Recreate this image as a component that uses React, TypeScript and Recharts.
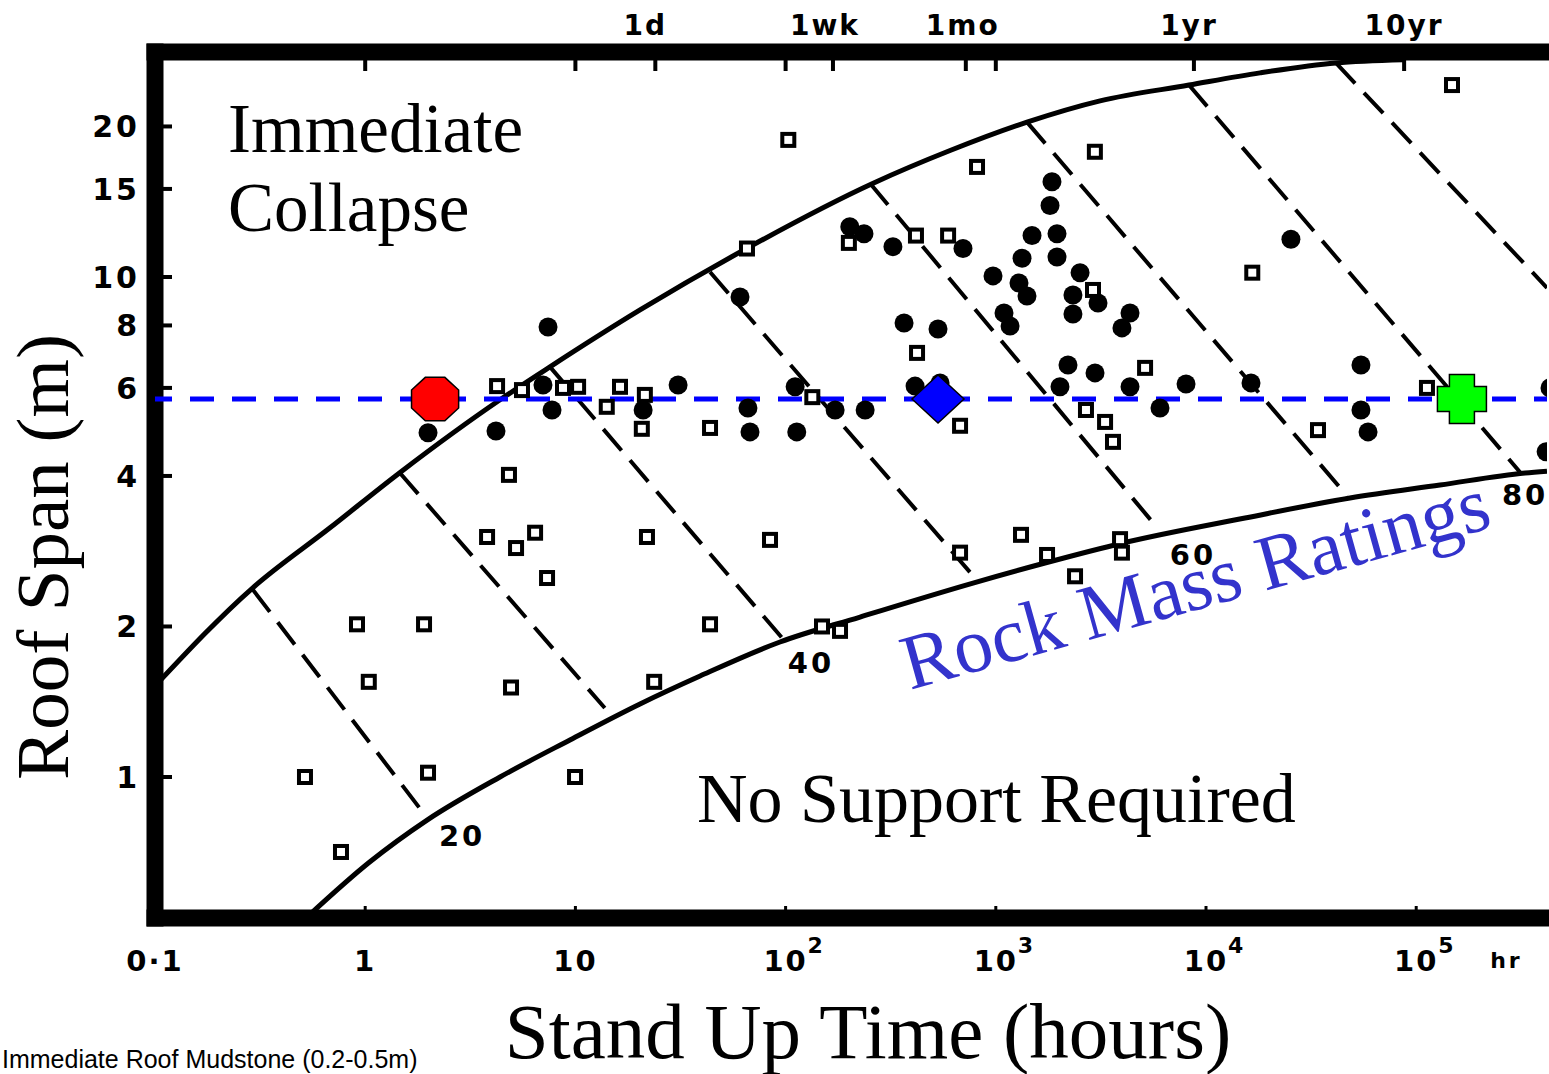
import React from 'react';
import { ScatterChart, Scatter, XAxis, YAxis } from 'recharts';

// ---------- layout constants ----------
const CHART_W = 1549;
const CHART_H = 1074;
const PLOT_LEFT = 155;
const PLOT_RIGHT = 1547;
const PLOT_TOP = 52;
const PLOT_BOTTOM = 918;

const X_DOMAIN = [0.1, 419000];
const Y_DOMAIN = [0.5224, 28.18];

// ---------- axis ticks ----------
const X_TICKS = [0.1, 1, 10, 100, 1000, 10000, 100000];
const X_TICK_LABELS = ['0·1', '1', '10', '10', '10', '10', '10'];
const X_TICK_EXP = ['', '', '', '2', '3', '4', '5'];
const X_UNIT = 'hr';

const TOP_TICKS = [1, 10, 24, 100, 168, 720, 1000, 8760, 87600];
const TOP_TICK_LABELS = ['', '', '1d', '', '1wk', '1mo', '', '1yr', '10yr'];
const TOP_LABEL_DX = [0, 0, -10, 0, -8, -3, 0, -5, 0];

const Y_TICKS = [1, 2, 4, 6, 8, 10, 15, 20];

// ---------- boundary curves (stand-up time h, span m) ----------
const UPPER_X = [0.1, 0.292, 0.68, 1.46, 4.38, 7.57, 20.3, 62.7, 261, 606, 1407, 3133, 8300, 18070, 41500, 86500];
const UPPER_Y = [1.52, 2.39, 3.15, 4.06, 5.68, 6.61, 8.59, 11.3, 15.4, 17.9, 20.4, 22.5, 24.2, 25.6, 26.8, 27.2];

const LOWER_X = [0.535, 1.05, 1.97, 4.38, 9.42, 20.3, 39.2, 94, 226, 779, 1714, 4027, 15340, 48400, 129700, 329600, 419000];
const LOWER_Y = [0.527, 0.676, 0.82, 1.0, 1.186, 1.4, 1.592, 1.862, 2.089, 2.443, 2.679, 2.938, 3.296, 3.614, 3.837, 4.055, 4.09];

// ---------- rock mass rating iso-lines ----------
const RMR_VALUES = [20, 30, 40, 50, 60, 70, 80, 90];
const RMR_START_X = [0.292, 1.46, 7.57, 43.7, 252, 1407, 8300, 41500];
const RMR_START_Y = [2.37, 4.06, 6.61, 10.23, 15.4, 20.4, 24.2, 26.8];
const RMR_END_X = [1.925, 13.8, 96.2, 796, 5720, 46900, 312000, 419000];
const RMR_END_Y = [0.839, 1.374, 1.897, 2.5, 3.19, 3.65, 4.07, 9.51];

const RMR_LABELS = ['20', '40', '60', '80'];
const RMR_LABEL_X = [2.89, 132, 8670, 329500];
const RMR_LABEL_Y = [0.766, 1.7, 2.79, 3.68];

// ---------- case histories ----------
const CIRCLE_X = [1.99, 4.19, 7.01, 7.74, 7.41, 21.0, 30.8, 60.7, 66.2, 67.7, 113, 111, 172, 239, 202, 236, 324, 698, 366, 531, 413, 543, 1850, 1811, 1487, 1955, 1333, 1955, 970, 1289, 1407, 2517, 2328, 2328, 3063, 1094, 1169, 4350, 3982, 2205, 2965, 2020, 4350, 8035, 6040, 25350, 16370, 54600, 54600, 59000, 433000, 415000];
const CIRCLE_Y = [4.88, 4.92, 6.08, 5.42, 7.94, 5.42, 6.08, 9.12, 5.47, 4.9, 4.9, 6.03, 5.42, 5.42, 12.6, 12.2, 11.5, 11.4, 8.09, 7.87, 6.05, 6.14, 15.5, 13.9, 12.1, 12.2, 10.9, 10.96, 10.05, 9.73, 9.16, 10.2, 9.2, 8.43, 8.87, 8.47, 7.98, 8.47, 7.91, 6.67, 6.43, 6.03, 6.03, 6.11, 5.47, 11.9, 6.14, 6.67, 5.42, 4.9, 6.0, 4.47];

const SQUARE_X = [103, 814, 2960, 148000, 65.5, 200, 417, 593, 2900, 16600, 422, 5130, 4.24, 5.57, 8.73, 10.3, 16.3, 21.4, 14.1, 134, 112500, 20.7, 43.7, 676, 2685, 3310, 3610, 34100, 4.83, 3.8, 5.22, 6.43, 7.33, 21.9, 84.3, 676, 1318, 1753, 2382, 3900, 3982, 0.914, 1.905, 1.04, 4.94, 23.7, 43.7, 149, 181.5, 0.517, 1.99, 9.96, 0.767];
const SQUARE_Y = [18.8, 16.6, 17.8, 24.2, 11.4, 11.7, 12.1, 12.1, 9.42, 10.2, 7.05, 6.58, 6.05, 5.94, 6.0, 6.03, 6.03, 5.81, 5.5, 5.75, 6.0, 4.97, 4.99, 5.04, 5.42, 5.13, 4.68, 4.94, 4.02, 3.02, 2.87, 3.08, 2.5, 3.02, 2.98, 2.81, 3.05, 2.78, 2.52, 2.99, 2.81, 2.02, 2.02, 1.55, 1.51, 1.55, 2.02, 2.0, 1.96, 1.0, 1.02, 1.0, 0.708];

// ---------- highlighted span & markers ----------
const SPAN_M = 5.7;
const SPAN_LINE_X = [0.1, 419000];
const RED_MARK = { x: 2.15, y: 5.7 };
const BLUE_MARK = { x: 531, y: 5.7 };
const GREEN_MARK = { x: 165000, y: 5.7 };

// ---------- derived tables ----------
const zip = (xs: number[], ys: number[]) => xs.map((x, i) => ({ x, y: ys[i] }));
const upperData = zip(UPPER_X, UPPER_Y);
const lowerData = zip(LOWER_X, LOWER_Y);
const rmrLines = RMR_VALUES.map((v, i) => ({
  rmr: v,
  data: [
    { x: RMR_START_X[i], y: RMR_START_Y[i] },
    { x: RMR_END_X[i], y: RMR_END_Y[i] },
  ],
}));
const rmrLabelData = RMR_LABELS.map((label, i) => ({ x: RMR_LABEL_X[i], y: RMR_LABEL_Y[i], label }));
const circleData = zip(CIRCLE_X, CIRCLE_Y);
const squareData = zip(SQUARE_X, SQUARE_Y);
const spanLineData = SPAN_LINE_X.map((x) => ({ x, y: SPAN_M }));

// ---------- styling ----------
const TICK_FONT = "'DejaVu Sans', 'Liberation Sans', sans-serif";
const SERIF = "'Liberation Serif', 'Times New Roman', serif";

const Empty = () => <g />;

const Dot = (p: any) => <circle cx={p.cx} cy={p.cy} r={9.5} fill="#000" />;
const OpenSquare = (p: any) => (
  <rect x={p.cx - 6} y={p.cy - 6} width={12} height={12} fill="#fff" stroke="#000" strokeWidth={4} />
);
const RmrLabel = (p: any) => (
  <text
    x={p.cx}
    y={p.cy + 11}
    textAnchor="middle"
    fontFamily={TICK_FONT}
    fontWeight={700}
    fontSize={29}
    letterSpacing={3}
    fill="#000"
  >
    {p.payload?.label ?? p.label}
  </text>
);

const Octagon = (p: any) => {
  const rx = 25.5;
  const ry = 23.5;
  const pts = Array.from({ length: 8 }, (_, k) => {
    const a = Math.PI / 8 + (k * Math.PI) / 4;
    return `${p.cx + rx * Math.cos(a)},${p.cy + ry * Math.sin(a)}`;
  }).join(' ');
  return <polygon points={pts} fill="#FF0000" stroke="#000" strokeWidth={1.5} />;
};
const Diamond = (p: any) => {
  const w = 26;
  const h = 24;
  const pts = `${p.cx},${p.cy - h} ${p.cx + w},${p.cy} ${p.cx},${p.cy + h} ${p.cx - w},${p.cy}`;
  return <polygon points={pts} fill="#0000FF" stroke="#000" strokeWidth={1.5} />;
};
const Cross = (p: any) => {
  const s = 24.5;
  const a = 12.5;
  const { cx, cy } = p;
  const pts = [
    [cx - a, cy - s], [cx + a, cy - s], [cx + a, cy - a], [cx + s, cy - a], [cx + s, cy + a], [cx + a, cy + a],
    [cx + a, cy + s], [cx - a, cy + s], [cx - a, cy + a], [cx - s, cy + a], [cx - s, cy - a], [cx - a, cy - a],
  ].map((q) => q.join(',')).join(' ');
  return <polygon points={pts} fill="#00FF00" stroke="#000" strokeWidth={1.5} />;
};

// ---------- ticks ----------
const LeftTick = (props: any) => {
  const { y, payload } = props;
  return (
    <g>
      <line x1={PLOT_LEFT + 7} x2={PLOT_LEFT + 17} y1={y} y2={y} stroke="#000" strokeWidth={4} />
      <text
        x={140}
        y={y + 11}
        textAnchor="end"
        fontFamily={TICK_FONT}
        fontWeight={700}
        fontSize={30}
        letterSpacing={3}
        fill="#000"
      >
        {String(payload.value)}
      </text>
    </g>
  );
};

const BottomTick = (props: any) => {
  const { x, payload } = props;
  const i = X_TICKS.indexOf(payload.value);
  const last = i === X_TICKS.length - 1;
  return (
    <g>
      <line x1={x} x2={x} y1={PLOT_BOTTOM - 7} y2={PLOT_BOTTOM - 12} stroke="#000" strokeWidth={3} />
      <text x={x} y={971} textAnchor="middle" fontFamily={TICK_FONT} fontWeight={700} fontSize={29} letterSpacing={2} fill="#000">
        {X_TICK_LABELS[i]}
      </text>
      {X_TICK_EXP[i] ? (
        <text x={x + 22} y={953} fontFamily={TICK_FONT} fontWeight={700} fontSize={22} fill="#000">
          {X_TICK_EXP[i]}
        </text>
      ) : null}
      {last ? (
        <text x={x + 74} y={968} fontFamily={TICK_FONT} fontWeight={700} fontSize={22} letterSpacing={3} fill="#000">
          {X_UNIT}
        </text>
      ) : null}
    </g>
  );
};

const TopTick = (props: any) => {
  const { x, payload } = props;
  const i = TOP_TICKS.indexOf(payload.value);
  const label = TOP_TICK_LABELS[i];
  return (
    <g>
      <line x1={x} x2={x} y1={PLOT_TOP + 7} y2={PLOT_TOP + 19} stroke="#000" strokeWidth={4} />
      {label ? (
        <text
          x={x + TOP_LABEL_DX[i]}
          y={35}
          textAnchor="middle"
          fontFamily={TICK_FONT}
          fontWeight={700}
          fontSize={28}
          letterSpacing={2}
          fill="#000"
        >
          {label}
        </text>
      ) : null}
    </g>
  );
};

const BORDER = { stroke: '#000', strokeWidth: 17, strokeLinecap: 'square' as const };

export default function App() {
  return (
    <div style={{ position: 'absolute', left: 0, top: 0, width: CHART_W, height: CHART_H, background: '#fff' }}>
      <ScatterChart
        width={CHART_W}
        height={CHART_H}
        margin={{ top: 0, right: CHART_W - PLOT_RIGHT, bottom: 0, left: 0 }}
      >
        <XAxis
          xAxisId="bottom"
          dataKey="x"
          type="number"
          scale="log"
          domain={X_DOMAIN}
          allowDataOverflow
          ticks={X_TICKS}
          interval={0}
          height={CHART_H - PLOT_BOTTOM}
          axisLine={BORDER}
          tickLine={false}
          tick={BottomTick}
        />
        <XAxis
          xAxisId="top"
          orientation="top"
          dataKey="x"
          type="number"
          scale="log"
          domain={X_DOMAIN}
          allowDataOverflow
          ticks={TOP_TICKS}
          interval={0}
          height={PLOT_TOP}
          axisLine={BORDER}
          tickLine={false}
          tick={TopTick}
        />
        <YAxis
          yAxisId="left"
          dataKey="y"
          type="number"
          scale="log"
          domain={Y_DOMAIN}
          allowDataOverflow
          ticks={Y_TICKS}
          interval={0}
          width={PLOT_LEFT}
          axisLine={BORDER}
          tickLine={false}
          tick={LeftTick}
        />
        <YAxis
          yAxisId="right"
          orientation="right"
          dataKey="y"
          type="number"
          scale="log"
          domain={Y_DOMAIN}
          allowDataOverflow
          width={0}
          axisLine={{ stroke: '#000', strokeWidth: 3 }}
          tickLine={false}
          tick={false}
        />

        <Scatter
          xAxisId="bottom"
          yAxisId="left"
          data={upperData}
          fill="#000"
          line={{ stroke: '#000', strokeWidth: 5 }}
          lineJointType="monotoneX"
          shape={Empty}
          isAnimationActive={false}
        />
        <Scatter
          xAxisId="bottom"
          yAxisId="left"
          data={lowerData}
          fill="#000"
          line={{ stroke: '#000', strokeWidth: 5 }}
          lineJointType="monotoneX"
          shape={Empty}
          isAnimationActive={false}
        />
        {rmrLines.map((l) => (
          <Scatter
            key={l.rmr}
            xAxisId="bottom"
            yAxisId="left"
            data={l.data}
            fill="#000"
            line={{ stroke: '#000', strokeWidth: 4, strokeDasharray: '28 13' }}
            shape={Empty}
            isAnimationActive={false}
          />
        ))}
        <Scatter
          xAxisId="bottom"
          yAxisId="left"
          data={rmrLabelData}
          fill="#000"
          shape={RmrLabel}
          isAnimationActive={false}
        />
        <Scatter
          xAxisId="bottom"
          yAxisId="left"
          data={spanLineData}
          fill="#0000FF"
          line={{ stroke: '#0000FF', strokeWidth: 5, strokeDasharray: '24 18', strokeDashoffset: 7 }}
          shape={Empty}
          isAnimationActive={false}
        />
        <Scatter xAxisId="bottom" yAxisId="left" data={circleData} fill="#000" shape={Dot} isAnimationActive={false} />
        <Scatter xAxisId="bottom" yAxisId="left" data={squareData} fill="#fff" shape={OpenSquare} isAnimationActive={false} />
        <Scatter xAxisId="bottom" yAxisId="left" data={[RED_MARK]} fill="#FF0000" shape={Octagon} isAnimationActive={false} />
        <Scatter xAxisId="bottom" yAxisId="left" data={[BLUE_MARK]} fill="#0000FF" shape={Diamond} isAnimationActive={false} />
        <Scatter xAxisId="bottom" yAxisId="left" data={[GREEN_MARK]} fill="#00FF00" shape={Cross} isAnimationActive={false} />
      </ScatterChart>

      <svg
        width={CHART_W}
        height={CHART_H}
        style={{ position: 'absolute', left: 0, top: 0, pointerEvents: 'none', overflow: 'hidden' }}
      >
        <g fontFamily={SERIF} fill="#000">
          <text x={228} y={152} fontSize={69}>Immediate</text>
          <text x={228} y={231} fontSize={69}>Collapse</text>
          <text x={697} y={822} fontSize={70}>No Support Required</text>
          <text x={868} y={1058} fontSize={79} textAnchor="middle">Stand Up Time (hours)</text>
          <text transform="translate(68,557) rotate(-90)" textAnchor="middle" fontSize={75}>Roof Span (m)</text>
          <text transform="translate(910,690) rotate(-15.6)" fontSize={78} fill="#3333CC">Rock Mass Ratings</text>
        </g>
        <text x={2} y={1068} fontFamily="'Liberation Sans', Arial, sans-serif" fontSize={25} fill="#000">
          Immediate Roof Mudstone (0.2-0.5m)
        </text>
      </svg>
    </div>
  );
}
